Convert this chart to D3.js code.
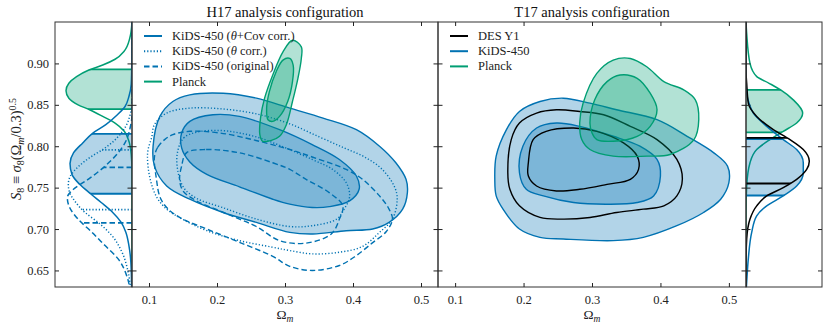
<!DOCTYPE html>
<html>
<head>
<meta charset="utf-8">
<script src="https://cdn.jsdelivr.net/npm/d3@7"></script>
<style>
  body { margin: 0; background: #fff; }
</style>
</head>
<body>
<svg id="chart" width="830" height="332"></svg>
<script>
// ---- data ----
const s8Ticks = [0.65, 0.70, 0.75, 0.80, 0.85, 0.90];
const omTicks = [0.1, 0.2, 0.3, 0.4, 0.5];

const titles = ['H17 analysis configuration', 'T17 analysis configuration'];
const h17Labels = ['KiDS-450 (θ+Cov corr.)', 'KiDS-450 (θ corr.)', 'KiDS-450 (original)', 'Planck'];
const t17Labels = ['DES Y1', 'KiDS-450', 'Planck'];

// 2D contours, [Omega_m, S8]
const h17CovOuter = [[0.106,0.800],[0.116,0.836],[0.135,0.854],[0.160,0.862],[0.209,0.864],[0.258,0.858],[0.307,0.846],[0.356,0.834],[0.405,0.820],[0.439,0.800],[0.463,0.780],[0.478,0.760],[0.480,0.744],[0.473,0.724],[0.453,0.708],[0.429,0.700],[0.390,0.698],[0.341,0.694],[0.307,0.696],[0.258,0.708],[0.209,0.720],[0.160,0.736],[0.126,0.752],[0.108,0.776]];
const h17CovInner = [[0.148,0.816],[0.160,0.830],[0.194,0.838],[0.233,0.836],[0.292,0.820],[0.340,0.802],[0.380,0.784],[0.405,0.764],[0.409,0.748],[0.395,0.734],[0.365,0.727],[0.340,0.726],[0.307,0.730],[0.282,0.736],[0.233,0.751],[0.185,0.766],[0.160,0.781],[0.148,0.798]];
const h17ThetaOuter = [[0.108,0.826],[0.126,0.840],[0.160,0.846],[0.208,0.845],[0.258,0.839],[0.307,0.827],[0.351,0.811],[0.387,0.798],[0.417,0.787],[0.443,0.772],[0.461,0.751],[0.465,0.736],[0.458,0.712],[0.439,0.696],[0.414,0.679],[0.380,0.672],[0.340,0.670],[0.307,0.674],[0.282,0.678],[0.233,0.686],[0.185,0.698],[0.149,0.712],[0.126,0.724],[0.111,0.739],[0.101,0.763],[0.098,0.792],[0.104,0.811]];
const h17ThetaInner = [[0.142,0.793],[0.151,0.810],[0.170,0.817],[0.204,0.819],[0.233,0.816],[0.263,0.810],[0.292,0.801],[0.340,0.784],[0.370,0.772],[0.390,0.756],[0.395,0.739],[0.387,0.724],[0.376,0.712],[0.340,0.704],[0.307,0.703],[0.258,0.712],[0.208,0.726],[0.170,0.737],[0.151,0.750],[0.142,0.772]];
const h17OrigOuter = [[0.108,0.787],[0.113,0.799],[0.123,0.808],[0.135,0.814],[0.160,0.818],[0.204,0.816],[0.252,0.808],[0.307,0.796],[0.340,0.787],[0.390,0.772],[0.414,0.760],[0.439,0.740],[0.453,0.724],[0.458,0.712],[0.449,0.697],[0.428,0.683],[0.405,0.668],[0.380,0.656],[0.340,0.650],[0.307,0.655],[0.282,0.667],[0.233,0.684],[0.185,0.700],[0.145,0.714],[0.126,0.726],[0.116,0.739],[0.111,0.760]];
const h17OrigInner = [[0.155,0.792],[0.184,0.796],[0.233,0.792],[0.282,0.780],[0.307,0.772],[0.331,0.760],[0.365,0.744],[0.385,0.728],[0.380,0.712],[0.368,0.694],[0.331,0.683],[0.292,0.686],[0.258,0.703],[0.233,0.712],[0.204,0.722],[0.170,0.734],[0.150,0.746],[0.145,0.760],[0.148,0.776]];
const h17PlanckOuter = [[0.311,0.928],[0.324,0.920],[0.324,0.906],[0.319,0.882],[0.311,0.854],[0.302,0.826],[0.292,0.812],[0.280,0.807],[0.267,0.806],[0.263,0.814],[0.264,0.834],[0.270,0.858],[0.282,0.886],[0.297,0.914]];
const h17PlanckInner = [[0.307,0.906],[0.312,0.898],[0.311,0.878],[0.304,0.854],[0.292,0.836],[0.282,0.830],[0.275,0.832],[0.273,0.846],[0.277,0.866],[0.287,0.890],[0.297,0.904]];

const t17KidsOuter = [[0.158,0.760],[0.160,0.788],[0.175,0.820],[0.194,0.842],[0.224,0.854],[0.258,0.858],[0.297,0.852],[0.336,0.844],[0.395,0.832],[0.439,0.812],[0.478,0.792],[0.498,0.776],[0.500,0.756],[0.488,0.736],[0.463,0.720],[0.424,0.704],[0.375,0.690],[0.331,0.686],[0.258,0.688],[0.224,0.690],[0.194,0.700],[0.170,0.724],[0.160,0.740]];
const t17KidsInner = [[0.194,0.768],[0.199,0.800],[0.219,0.822],[0.248,0.828],[0.282,0.824],[0.331,0.812],[0.370,0.800],[0.395,0.784],[0.400,0.764],[0.390,0.740],[0.366,0.732],[0.322,0.730],[0.273,0.732],[0.229,0.740],[0.204,0.748]];
const t17DesOuter = [[0.177,0.768],[0.182,0.808],[0.194,0.828],[0.219,0.840],[0.248,0.844],[0.282,0.842],[0.317,0.838],[0.356,0.824],[0.395,0.808],[0.424,0.784],[0.432,0.760],[0.424,0.740],[0.405,0.728],[0.375,0.724],[0.336,0.720],[0.297,0.714],[0.258,0.712],[0.224,0.714],[0.194,0.728],[0.180,0.748]];
const t17DesInner = [[0.207,0.780],[0.214,0.808],[0.233,0.818],[0.273,0.822],[0.307,0.818],[0.346,0.804],[0.366,0.788],[0.368,0.772],[0.356,0.760],[0.322,0.754],[0.282,0.748],[0.248,0.746],[0.219,0.752],[0.207,0.764]];
const t17PlanckOuter = [[0.282,0.828],[0.287,0.852],[0.307,0.888],[0.331,0.904],[0.356,0.906],[0.380,0.896],[0.405,0.878],[0.434,0.868],[0.451,0.856],[0.456,0.832],[0.449,0.808],[0.414,0.790],[0.380,0.788],[0.331,0.788],[0.297,0.796],[0.285,0.808]];
const t17PlanckInner = [[0.297,0.828],[0.304,0.856],[0.322,0.878],[0.341,0.886],[0.366,0.882],[0.385,0.864],[0.395,0.844],[0.385,0.824],[0.366,0.812],[0.331,0.806],[0.307,0.808],[0.300,0.816]];

// 1D marginals, [S8, relative density], and 68% bounds [low, high]
const h17PlanckMarg = [[0.950,0.0],[0.930,0.03],[0.915,0.10],[0.905,0.22],[0.898,0.38],[0.892,0.56],[0.884,0.72],[0.876,0.82],[0.867,0.857],[0.858,0.82],[0.850,0.70],[0.844,0.55],[0.836,0.38],[0.828,0.22],[0.818,0.10],[0.806,0.04],[0.790,0.01],[0.770,0.0],[0.630,0.0]];
const h17CovMarg = [[0.950,0.0],[0.900,0.003],[0.875,0.01],[0.860,0.04],[0.848,0.09],[0.838,0.19],[0.826,0.34],[0.815,0.52],[0.804,0.64],[0.792,0.76],[0.779,0.805],[0.766,0.78],[0.754,0.68],[0.742,0.53],[0.732,0.40],[0.720,0.25],[0.708,0.14],[0.696,0.08],[0.680,0.04],[0.660,0.015],[0.630,0.005]];
const h17ThetaMarg = [[0.950,0.0],[0.860,0.0],[0.845,0.01],[0.836,0.03],[0.826,0.07],[0.816,0.14],[0.806,0.24],[0.796,0.38],[0.788,0.52],[0.776,0.69],[0.764,0.80],[0.754,0.827],[0.744,0.81],[0.736,0.76],[0.720,0.61],[0.708,0.44],[0.692,0.26],[0.672,0.13],[0.648,0.05],[0.630,0.02]];
const h17OrigMarg = [[0.950,0.0],[0.840,0.0],[0.832,0.005],[0.820,0.03],[0.808,0.07],[0.792,0.18],[0.776,0.35],[0.760,0.57],[0.748,0.76],[0.738,0.84],[0.726,0.81],[0.712,0.70],[0.696,0.52],[0.680,0.35],[0.664,0.18],[0.644,0.07],[0.630,0.03]];
const h17PlanckBand = [0.8447, 0.8928];
const h17CovBand = [0.7426, 0.815];
const h17ThetaBand = [0.7235, 0.7955];
const h17OrigBand = [0.7075, 0.7745];

const t17PlanckMarg = [[0.950,0.0],[0.936,0.009],[0.900,0.052],[0.884,0.14],[0.876,0.30],[0.868,0.45],[0.856,0.614],[0.840,0.736],[0.828,0.658],[0.818,0.484],[0.808,0.312],[0.796,0.139],[0.780,0.052],[0.752,0.009],[0.720,0.0],[0.630,0.0]];
const t17KidsMarg = [[0.950,0.0],[0.880,0.0],[0.864,0.009],[0.852,0.04],[0.840,0.095],[0.824,0.269],[0.808,0.484],[0.796,0.658],[0.780,0.744],[0.768,0.744],[0.752,0.658],[0.740,0.484],[0.728,0.269],[0.716,0.139],[0.696,0.074],[0.664,0.030],[0.636,0.009],[0.630,0.005]];
const t17DesMarg = [[0.950,0.0],[0.890,0.0],[0.876,0.009],[0.852,0.030],[0.836,0.139],[0.820,0.355],[0.808,0.571],[0.796,0.744],[0.782,0.822],[0.772,0.788],[0.760,0.658],[0.750,0.484],[0.740,0.269],[0.728,0.139],[0.712,0.052],[0.688,0.009],[0.660,0.0],[0.630,0.0]];
const t17PlanckBand = [0.8166, 0.868];
const t17KidsBand = [0.7405, 0.8087];
const t17DesBand = [0.755, 0.810];

// ---- drawing ----
const FONT = "'Liberation Serif', 'DejaVu Serif', serif";
const BLUE = '#0072b2';
const GREEN = '#009e73';
const BLACK = '#000000';
const DOTTED = '1.2,2';
const DASHED = '5.5,3';

const svg = d3.select('#chart').attr('font-family', FONT);
const defs = svg.append('defs');

const yTop = 22;
const yBottom = 287;
const y = d3.scaleLinear().domain([0.63, 0.95]).range([yBottom, yTop]);
const xH = d3.scaleLinear().domain([0.075, 0.525]).range([132, 438]);
const xT = d3.scaleLinear().domain([0.075, 0.525]).range([438, 746]);
const dL = d3.scaleLinear().domain([0, 1]).range([132, 55]);
const dR = d3.scaleLinear().domain([0, 1]).range([746, 823]);

const panels = [[55, 132], [132, 438], [438, 746], [746, 822]];
panels.forEach((p, i) => {
  defs.append('clipPath').attr('id', `panel${i}`)
    .append('rect')
      .attr('x', p[0]).attr('y', yTop)
      .attr('width', p[1] - p[0]).attr('height', yBottom - yTop);
});

function contour(g, xs, pts, color, dash, filled) {
  const line = d3.line()
    .x(d => xs(d[0]))
    .y(d => y(d[1]))
    .curve(d3.curveCatmullRomClosed.alpha(0.5));
  g.append('path')
    .attr('d', line(pts))
    .attr('fill', filled ? color : 'none')
    .attr('fill-opacity', 0.3)
    .attr('stroke', color)
    .attr('stroke-width', 1.4)
    .attr('stroke-dasharray', dash);
}

let clipId = 0;
function marginal(g, dx, data, band, color, dash, filled) {
  const area = d3.area().curve(d3.curveMonotoneY)
    .y(d => y(d[0])).x0(dx(0)).x1(d => dx(d[1]));
  const line = d3.line().curve(d3.curveMonotoneY)
    .y(d => y(d[0])).x(d => dx(d[1]));
  const id = `marg${clipId++}`;
  defs.append('clipPath').attr('id', id).append('path').attr('d', area(data));

  const inner = g.append('g').attr('clip-path', `url(#${id})`);
  if (filled) {
    inner.append('rect')
      .attr('x', Math.min(dx(0), dx(1)))
      .attr('width', Math.abs(dx(1) - dx(0)))
      .attr('y', y(band[1]))
      .attr('height', y(band[0]) - y(band[1]))
      .attr('fill', color)
      .attr('fill-opacity', 0.3);
  }
  inner.selectAll(null)
    .data(band)
    .enter().append('line')
      .attr('x1', dx(0)).attr('x2', dx(1))
      .attr('y1', d => y(d)).attr('y2', d => y(d))
      .attr('stroke', color)
      .attr('stroke-width', 1.8)
      .attr('stroke-dasharray', dash);

  g.append('path')
    .attr('d', line(data))
    .attr('fill', 'none')
    .attr('stroke', color)
    .attr('stroke-width', 1.5)
    .attr('stroke-dasharray', dash);
}

// H17 contours
const gH = svg.append('g').attr('clip-path', 'url(#panel1)');
contour(gH, xH, h17CovOuter, BLUE, null, true);
contour(gH, xH, h17CovInner, BLUE, null, true);
contour(gH, xH, h17ThetaOuter, BLUE, DOTTED, false);
contour(gH, xH, h17ThetaInner, BLUE, DOTTED, false);
contour(gH, xH, h17OrigOuter, BLUE, DASHED, false);
contour(gH, xH, h17OrigInner, BLUE, DASHED, false);
contour(gH, xH, h17PlanckOuter, GREEN, null, true);
contour(gH, xH, h17PlanckInner, GREEN, null, true);

// T17 contours
const gT = svg.append('g').attr('clip-path', 'url(#panel2)');
contour(gT, xT, t17KidsOuter, BLUE, null, true);
contour(gT, xT, t17KidsInner, BLUE, null, true);
contour(gT, xT, t17DesOuter, BLACK, null, false);
contour(gT, xT, t17DesInner, BLACK, null, false);
contour(gT, xT, t17PlanckOuter, GREEN, null, true);
contour(gT, xT, t17PlanckInner, GREEN, null, true);

// marginals
const gL = svg.append('g').attr('clip-path', 'url(#panel0)');
marginal(gL, dL, h17PlanckMarg, h17PlanckBand, GREEN, null, true);
marginal(gL, dL, h17CovMarg, h17CovBand, BLUE, null, true);
marginal(gL, dL, h17ThetaMarg, h17ThetaBand, BLUE, DOTTED, false);
marginal(gL, dL, h17OrigMarg, h17OrigBand, BLUE, DASHED, false);

const gR = svg.append('g').attr('clip-path', 'url(#panel3)');
marginal(gR, dR, t17PlanckMarg, t17PlanckBand, GREEN, null, true);
marginal(gR, dR, t17KidsMarg, t17KidsBand, BLUE, null, true);
marginal(gR, dR, t17DesMarg, t17DesBand, BLACK, null, false);

// frames
svg.append('g').selectAll('rect')
  .data(panels)
  .enter().append('rect')
    .attr('x', d => d[0]).attr('y', yTop)
    .attr('width', d => d[1] - d[0]).attr('height', yBottom - yTop)
    .attr('fill', 'none')
    .attr('stroke', '#333')
    .attr('stroke-width', 1);

// ticks
function ticks(axis, tx, ty) {
  svg.append('g')
    .attr('transform', `translate(${tx}, ${ty})`)
    .call(axis)
    .call(g => g.select('.domain').remove())
    .selectAll('line').attr('stroke', '#222');
}
ticks(d3.axisRight(y).tickValues(s8Ticks).tickSize(4).tickFormat(''), 55, 0);
[132, 438, 746].forEach(x => {
  ticks(d3.axisRight(y).tickValues(s8Ticks).tickSize(9).tickFormat(''), x - 4.5, 0);
});
ticks(d3.axisLeft(y).tickValues(s8Ticks).tickSize(4).tickFormat(''), 822, 0);
[xH, xT].forEach(xs => {
  ticks(d3.axisBottom(xs).tickValues(omTicks).tickSize(4).tickFormat(''), 0, yTop);
  ticks(d3.axisTop(xs).tickValues(omTicks).tickSize(4).tickFormat(''), 0, yBottom);
});

// tick labels
svg.append('g')
  .attr('transform', 'translate(55, 0)')
  .call(d3.axisLeft(y).tickValues(s8Ticks).tickSize(0).tickPadding(6).tickFormat(d3.format('.2f')))
  .call(g => g.select('.domain').remove())
  .selectAll('text')
    .attr('font-family', FONT)
    .attr('font-size', 12.5)
    .attr('fill', '#222');
[xH, xT].forEach(xs => {
  svg.append('g')
    .attr('transform', `translate(0, ${yBottom})`)
    .call(d3.axisBottom(xs).tickValues(omTicks).tickSize(0).tickPadding(8).tickFormat(d3.format('.1f')))
    .call(g => g.select('.domain').remove())
    .selectAll('text')
      .attr('font-family', FONT)
      .attr('font-size', 12.5)
      .attr('fill', '#222');

  const lab = svg.append('text')
    .attr('x', (xs.range()[0] + xs.range()[1]) / 2)
    .attr('y', 319)
    .attr('text-anchor', 'middle')
    .attr('font-size', 13.5)
    .attr('fill', '#222');
  lab.append('tspan').text('Ω');
  lab.append('tspan').attr('font-style', 'italic').attr('font-size', 9.5).attr('dy', 3).text('m');
});

// y label
const ylab = svg.append('text')
  .attr('transform', 'translate(21, 149) rotate(-90)')
  .attr('text-anchor', 'middle')
  .attr('font-size', 14.5)
  .attr('fill', '#222');
ylab.append('tspan').attr('font-style', 'italic').text('S');
ylab.append('tspan').attr('font-size', 10).attr('dy', 3).text('8');
ylab.append('tspan').attr('dy', -3).text(' ≡ ');
ylab.append('tspan').attr('font-style', 'italic').text('σ');
ylab.append('tspan').attr('font-size', 10).attr('dy', 3).text('8');
ylab.append('tspan').attr('dy', -3).text('(Ω');
ylab.append('tspan').attr('font-size', 10).attr('font-style', 'italic').attr('dy', 3).text('m');
ylab.append('tspan').attr('dy', -3).text('/0.3)');
ylab.append('tspan').attr('font-size', 10).attr('dy', -5).text('0.5');

// titles
[xH, xT].forEach((xs, i) => {
  svg.append('text')
    .attr('x', (xs.range()[0] + xs.range()[1]) / 2)
    .attr('y', 17)
    .attr('text-anchor', 'middle')
    .attr('font-size', 14.5)
    .attr('fill', '#111')
    .text(titles[i]);
});

// legends
function legend(labels, styles, x0, y0) {
  const g = svg.append('g').attr('transform', `translate(${x0}, ${y0})`);
  labels.forEach((label, i) => {
    const row = i * 15.2;
    g.append('line')
      .attr('x1', 0).attr('x2', 18)
      .attr('y1', row).attr('y2', row)
      .attr('stroke', styles[i].color)
      .attr('stroke-width', 2)
      .attr('stroke-dasharray', styles[i].dash);
    const t = g.append('text')
      .attr('x', 28).attr('y', row + 4)
      .attr('font-size', 12.5)
      .attr('fill', '#222');
    label.split('θ').forEach((part, j) => {
      if (j > 0) t.append('tspan').attr('font-style', 'italic').text('θ');
      t.append('tspan').text(part);
    });
  });
}
legend(h17Labels, [
  { color: BLUE, dash: null },
  { color: BLUE, dash: DOTTED },
  { color: BLUE, dash: DASHED },
  { color: GREEN, dash: null },
], 144, 36);
legend(t17Labels, [
  { color: BLACK, dash: null },
  { color: BLUE, dash: null },
  { color: GREEN, dash: null },
], 450, 36);
</script>
</body>
</html>
